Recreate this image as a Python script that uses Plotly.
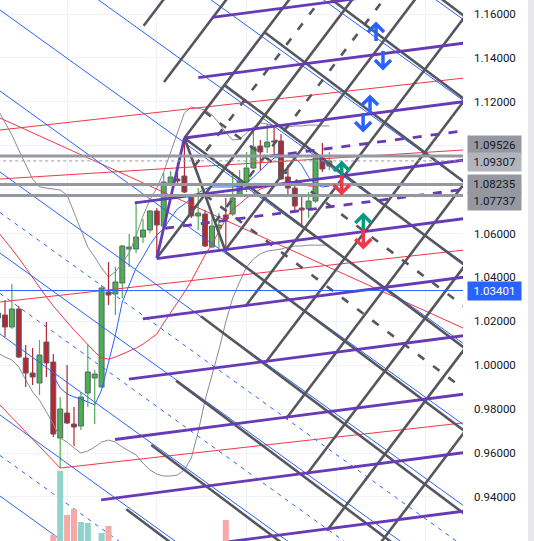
import plotly.graph_objects as go

# ---------------- data (daily candles, index = bar number) ----------------
idx = list(range(-1, 48))
opens = [1.02378, 1.02287, 1.01740, 1.02560, 1.00328, 0.99644, 0.99189, 1.01056, 1.00145, 0.96683,
         0.97822, 0.97321, 0.97229, 0.98733, 0.99416, 0.99006, 1.03334, 1.03243, 1.03745, 1.05294,
         1.05294, 1.05840, 1.06159, 1.07025, 1.06341, 1.08255, 1.08483, 1.08619, 1.07754, 1.06797,
         1.06888, 1.05385, 1.06250, 1.06843, 1.06888, 1.07754, 1.08346, 1.08984, 1.09986, 1.09941,
         1.10214, 1.10214, 1.08574, 1.08073, 1.07162, 1.07116, 1.07480, 1.09440, 1.09075]
highs = [1.02606, 1.02970, 1.03699, 1.02697, 1.00920, 1.00783, 1.01148, 1.01968, 1.00510, 0.98551,
         1.00009, 0.98095, 0.98778, 1.00965, 0.99781, 1.03653, 1.04701, 1.04473, 1.05476, 1.05977,
         1.07389, 1.06660, 1.07070, 1.07162, 1.08756, 1.08847, 1.09212, 1.10351, 1.07754, 1.08073,
         1.07070, 1.06979, 1.06934, 1.07617, 1.08802, 1.08893, 1.09713, 1.10715, 1.10260, 1.10989,
         1.10943, 1.10533, 1.09121, 1.08210, 1.07799, 1.07890, 1.09713, 1.10123, 1.09713]
lows = [1.01922, 1.01284, 1.01649, 1.00328, 0.99006, 0.99097, 0.98642, 0.99462, 0.96728, 0.95316,
        0.97321, 0.96318, 0.97047, 0.98095, 0.97321, 0.99006, 1.02742, 1.02287, 1.03061, 1.04473,
        1.05111, 1.05567, 1.06023, 1.04884, 1.06296, 1.08164, 1.08301, 1.07845, 1.06706, 1.06159,
        1.05385, 1.05339, 1.05339, 1.05157, 1.06797, 1.07663, 1.07890, 1.08938, 1.08893, 1.09667,
        1.09485, 1.08437, 1.07663, 1.06979, 1.06341, 1.06706, 1.07389, 1.08802, 1.08893]
closes = [1.02150, 1.01740, 1.02560, 1.00373, 0.99644, 0.99462, 1.00464, 1.00100, 0.96865, 0.98004,
          0.97366, 0.97184, 0.98551, 0.99690, 0.99599, 1.03517, 1.03198, 1.03790, 1.05430, 1.05385,
          1.05840, 1.06159, 1.07025, 1.06387, 1.08346, 1.08574, 1.08392, 1.07890, 1.06797, 1.06934,
          1.05430, 1.06341, 1.06387, 1.06660, 1.07617, 1.08392, 1.08984, 1.09941, 1.09713, 1.10168,
          1.10168, 1.08483, 1.08073, 1.07253, 1.07070, 1.07480, 1.09440, 1.08938, 1.09307]
volume = [40, 45, 38, 42, 50, 35, 48, 52, 63, 95,
          73, 76, 69.5, 69, 55, 64, 67.5, 50, 45, 38,
          52, 40, 36, 58, 48, 35, 30, 56, 44, 40,
          47, 39, 42, 70.5, 45, 38, 41, 50, 33, 36,
          30, 48, 44, 37, 40, 35, 55, 42, 25]

upper_band = [1.1163, 1.1108, 1.1049, 1.0980, 1.0912, 1.0848, 1.0812, 1.0807, 1.0803, 1.0798,
              1.0775, 1.0693, 1.0611, 1.0538, 1.0493, 1.0443, 1.0402, 1.0425, 1.0466, 1.0511,
              1.0589, 1.0680, 1.0753, 1.0807, 1.0880, 1.0971, 1.1062, 1.1149, 1.1176, 1.1171,
              1.1163, 1.1140, 1.1104, 1.1058, 1.1026, 1.1030, 1.1058, 1.1085, 1.1104, 1.1099,
              1.1090, 1.1085, 1.1085, 1.1090, 1.1090, 1.1094, 1.1094, 1.1090, 1.1090]
lower_band = [1.0056, 1.0037, 1.0024, 0.9992, 0.9933, 0.9878, 0.9841, 0.9787, 0.9732, 0.9668,
              0.9650, 0.9623, 0.9600, 0.9609, 0.9627, 0.9650, 0.9659, 0.9650, 0.9627, 0.9609,
              0.9591, 0.9554, 0.9523, 0.9504, 0.9495, 0.9495, 0.9500, 0.9523, 0.9577, 0.9696,
              0.9841, 0.9955, 1.0069, 1.0197, 1.0306, 1.0379, 1.0447, 1.0484, 1.0507, 1.0520,
              1.0525, 1.0529, 1.0538, 1.0543, 1.0543, 1.0547, 1.0547, 1.0547, 1.0547]
basis = [1.0607, 1.0570, 1.0529, 1.0488, 1.0443, 1.0397, 1.0356, 1.0311, 1.0270, 1.0233,
         1.0201, 1.0160, 1.0128, 1.0092, 1.0060, 1.0033, 1.0028, 1.0037, 1.0051, 1.0065,
         1.0078, 1.0096, 1.0119, 1.0142, 1.0192, 1.0238, 1.0283, 1.0333, 1.0384, 1.0443,
         1.0502, 1.0552, 1.0607, 1.0666, 1.0712, 1.0734, 1.0762, 1.0780, 1.0803, 1.0812,
         1.0816, 1.0821, 1.0825, 1.0830, 1.0830, 1.0816, 1.0816, 1.0821, 1.0821]
trend_idx = list(range(7, 48))
trend_line = [0.9951, 0.9896, 0.9869, 0.9855, 0.9846, 0.9832, 0.9819, 0.9887, 1.0015, 1.0138,
              1.0288, 1.0365, 1.0443, 1.0493, 1.0548, 1.0593, 1.0621, 1.0671, 1.0712, 1.0734,
              1.0762, 1.0785, 1.0803, 1.0812, 1.0812, 1.0812, 1.0812, 1.0816, 1.0830, 1.0857,
              1.0889, 1.0917, 1.0944, 1.0949, 1.0949, 1.0944, 1.0912, 1.0857, 1.0825, 1.0812,
              1.0816]

price_ticks = [0.92, 0.94, 0.96, 0.98, 1.00, 1.02, 1.04, 1.06, 1.08, 1.10, 1.12, 1.14, 1.16]
tick_text = ["0.92000", "0.94000", "0.96000", "0.98000", "1.00000", "1.02000", "1.04000",
             "1.06000", "", "", "1.12000", "1.14000", "1.16000"]
month_ticks = [9, 22, 35, 48, 61]

gray_levels = [1.09526, 1.08235, 1.07737]
last_price = 1.09307
blue_level = 1.03401

# drawing-tool levels (price where each line meets the left edge)
blue_line_left = [1.30944, 1.27253, 1.23563, 1.19873, 1.16182, 1.12492, 1.08802, 1.05111,
                  1.01421, 0.97731, 0.94040]
blue_dash_left = [1.06957, 1.03266, 0.95886]
red_channel_left = [1.10715, 1.02879]
red_line_b = (1.08483, 1.09804)       # left edge -> right edge
red_down_a = (1.11262, 1.01694)       # left edge -> right edge
red_down_b_left = 0.98186

# ---------------- geometry helpers ----------------
I_LEFT, I_RIGHT = -0.7246, 66.377
P_TOP = 1.16638
P_BOTTOM = P_TOP - 541 / 2195.0
PXX = 463 / (I_RIGHT - I_LEFT)
PXY = 541 / (P_TOP - P_BOTTOM)
I_END = 68.0
I_START = -2.0


def at(arr, i):
    return arr[i + 1]


fig = go.Figure()


def add_lines(segs, color, width, dash="solid"):
    xs, ys = [], []
    for i0, p0, i1, p1 in segs:
        xs += [i0, i1, None]
        ys += [p0, p1, None]
    fig.add_trace(go.Scatter(x=xs, y=ys, mode="lines", hoverinfo="skip",
                             line=dict(color=color, width=width, dash=dash)))


# ---------------- volume ----------------
vol_colors = ["#8fd3cb" if c >= o else "#f6a9a7" for o, c in zip(opens, closes)]
fig.add_trace(go.Bar(x=idx, y=volume, yaxis="y2", marker=dict(color=vol_colors, line=dict(width=0)),
                     width=0.87, hoverinfo="skip"))

# ---------------- candle bodies ----------------
body_base = [min(o, c) for o, c in zip(opens, closes)]
body_h = [max(abs(c - o), 0.0004) for o, c in zip(opens, closes)]
body_col = ["#4caf50" if c >= o else "#b22833" for o, c in zip(opens, closes)]
fig.add_trace(go.Bar(x=idx, y=body_h, base=body_base, width=0.72,
                     marker=dict(color=body_col, line=dict(color="#5d606b", width=1)),
                     hoverinfo="skip"))

# ---------------- Bollinger + trend ----------------
fig.add_trace(go.Scatter(x=idx, y=upper_band, mode="lines", line=dict(color="#8a8c94", width=1), hoverinfo="skip"))
fig.add_trace(go.Scatter(x=idx, y=lower_band, mode="lines", line=dict(color="#8a8c94", width=1), hoverinfo="skip"))
fig.add_trace(go.Scatter(x=idx, y=basis, mode="lines", line=dict(color="#f23645", width=1), hoverinfo="skip"))
fig.add_trace(go.Scatter(x=trend_idx, y=trend_line, mode="lines", line=dict(color="#2962ff", width=1), hoverinfo="skip"))

# ---------------- wicks ----------------
for up in (True, False):
    segs = []
    for i, o, h, l, c in zip(idx, opens, highs, lows, closes):
        if (c >= o) != up:
            continue
        top, bot = max(o, c), min(o, c)
        if h > top:
            segs.append((i, top, i, h))
        if l < bot:
            segs.append((i, l, i, bot))
    add_lines(segs, "#4caf50" if up else "#b22833", 1.2)

# ---------------- red drawings ----------------
s_red = 0.000352
i8, low8 = 8, at(lows, 8)
red_segs = [(i8, low8, I_END, low8 + s_red * (I_END - i8))]
for lv in red_channel_left:
    red_segs.append((I_START, lv + s_red * (I_START - I_LEFT), I_END, lv + s_red * (I_END - I_LEFT)))
red_segs.append((I_LEFT, red_line_b[0], I_RIGHT, red_line_b[1]))
red_segs.append((I_LEFT, red_down_a[0], I_RIGHT, red_down_a[1]))
red_segs.append((I_LEFT, red_down_b_left, i8, low8))
add_lines(red_segs, "#f23645", 1)

# ---------------- blue drawings ----------------
s_blue = -0.002263
add_lines([(I_LEFT, lv, I_END, lv + s_blue * (I_END - I_LEFT)) for lv in blue_line_left], "#2962ff", 1)
add_lines([(I_LEFT, lv, I_END, lv + s_blue * (I_END - I_LEFT)) for lv in blue_dash_left], "#2962ff", 1, "4px,5px")

# ---------------- gray grid (Gann-style box) ----------------
iA, pA = 26, at(highs, 26)
iB, pB = 32, at(lows, 32)
iC, pC = 22, at(lows, 22)
s_up, s_dn, D = 0.00415, -0.0023576, 0.0378
s_ab = (pB - pA) / (iB - iA)
s_bb = 0.00813
GRAY = "#56575e"

gray_segs = [(iA, pA, iB, pB)]
for n in range(-2, 9):
    if n == 1:
        i0, p0 = iC, pC
    else:
        i0 = iA + n * D / (s_up - s_ab)
        p0 = pA + s_ab * (i0 - iA)
    gray_segs.append((i0, p0, I_END, pA + s_up * (I_END - iA) - n * D))
for m in range(-5, 6):
    if m <= 0:
        i0 = iA - m * D / (s_up - s_dn)
        p0 = pA + s_up * (i0 - iA)
    else:
        i0 = iB - (m - 1) * D / (s_bb - s_dn)
        p0 = pB + s_bb * (i0 - iB)
    gray_segs.append((i0, p0, I_END, pA + s_dn * (I_END - iA) - m * D))
add_lines(gray_segs, GRAY, 2.6)

gd = []
for n in (0.5, 1.5):
    i0 = iA + n * D / (s_up - s_ab)
    gd.append((i0, pA + s_ab * (i0 - iA), I_END, pA + s_up * (I_END - iA) - n * D))
i0 = iA + 0.5 * D / (s_ab - s_dn) * -1
gd.append((i0, pA + s_ab * (i0 - iA), I_END, pA + s_dn * (I_END - iA) - 0.5 * D))
i0 = iA + 0.5 * D / (s_up - s_dn)
gd.append((i0, pA + s_up * (i0 - iA), I_END, pA + s_dn * (I_END - iA) + 0.5 * D))
add_lines(gd, GRAY, 2.6, "8px,11px")

# ---------------- purple channel ----------------
s_p, Dp = 0.000409, 0.02665
s_ca = (pA - pC) / (iA - iC)
PURPLE = "#673ab7"
psegs = [(iC, pC, iA, pA)]
for j in range(-2, 8):
    i0 = iA - j * Dp / (s_ca - s_p) if j != 1 else 18.8
    psegs.append((i0, pA + s_p * (i0 - iA) - j * Dp, I_END, pA + s_p * (I_END - iA) - j * Dp))
add_lines(psegs, PURPLE, 2.8)
pd_segs = []
for j, i0 in ((0.5, 38.4), (1.5, 23.2)):
    pd_segs.append((i0, pA + s_p * (i0 - iA) - j * Dp, I_END, pA + s_p * (I_END - iA) - j * Dp))
add_lines(pd_segs, PURPLE, 2.8, "9px,9px")

# ---------------- horizontal price lines ----------------
add_lines([(I_START, lv, I_END, lv) for lv in gray_levels], "#9598a1", 3)
add_lines([(I_START, last_price, I_END, last_price)], "#9598a1", 1, "dot")
add_lines([(I_START, blue_level, I_END, blue_level)], "#2962ff", 1)

# ---------------- arrow marks ----------------
arrows = [(53.77, 1.15545, "up", "#2962ff"), (54.78, 1.13540, "down", "#2962ff"),
          (52.90, 1.12219, "up", "#2962ff"), (51.90, 1.10715, "down", "#2962ff"),
          (48.80, 1.09212, "up", "#089981"), (48.80, 1.07845, "down", "#f23645"),
          (51.93, 1.06843, "up", "#089981"), (51.93, 1.05385, "down", "#f23645")]
for ai, ap, d, col in arrows:
    w, h, L = 8 / PXX, 8 / PXY, 17 / PXY
    sgn = -1 if d == "up" else 1
    xs = [ai - w, ai, ai + w, None, ai, ai]
    ys = [ap + sgn * h, ap, ap + sgn * h, None, ap, ap + sgn * L]
    fig.add_trace(go.Scatter(x=xs, y=ys, mode="lines", hoverinfo="skip",
                             line=dict(color=col, width=3.5)))

# ---------------- price badges ----------------
badges = [(1.09526, "1.09526", "#9598a1", "#131722", 11),
          (1.09307, "1.09307", "#b2b5be", "#131722", -1),
          (1.08235, "1.08235", "#9598a1", "#131722", 0),
          (1.07737, "1.07737", "#9598a1", "#131722", -6),
          (1.03401, "1.03401", "#2962ff", "#ffffff", 0)]
annotations = []
for p, txt, bg, fc, ys in badges:
    annotations.append(dict(xref="paper", yref="y", x=1, y=p, xanchor="left", yanchor="middle",
                            xshift=4, yshift=ys, text=txt, showarrow=False, bgcolor=bg,
                            font=dict(size=11.5, color=fc), borderpad=2, width=49, align="center"))

fig.update_layout(
    width=534, height=541, margin=dict(l=0, r=71, t=0, b=0),
    paper_bgcolor="white", plot_bgcolor="white", showlegend=False,
    barmode="overlay", font=dict(family="Roboto, Arial, sans-serif"),
    annotations=annotations,
    xaxis=dict(range=[I_LEFT, I_RIGHT], tickvals=month_ticks, showticklabels=False,
               showgrid=True, gridcolor="#f0f3fa", zeroline=False, ticks=""),
    yaxis=dict(range=[P_BOTTOM, P_TOP], side="right", tickvals=price_ticks, ticktext=tick_text,
               showgrid=True, gridcolor="#f0f3fa", zeroline=False, ticks="",
               tickfont=dict(size=11.5, color="#131722"), ticklabelstandoff=10),
    yaxis2=dict(range=[60, 330.5], overlaying="y", visible=False),
    shapes=[dict(type="rect", xref="paper", yref="paper", x0=528 / 463, x1=534 / 463, y0=0, y1=1,
                 fillcolor="#e8e8eb", line=dict(width=0))],
)

fig.write_html("out.html", config={"displayModeBar": False, "staticPlot": True})
with open("out.html", "r", encoding="utf-8") as fh:
    html = fh.read()
html = html.replace("<head>", "<head><style>html,body{margin:0;padding:0;overflow:hidden;}</style>", 1)
with open("out.html", "w", encoding="utf-8") as fh:
    fh.write(html)
